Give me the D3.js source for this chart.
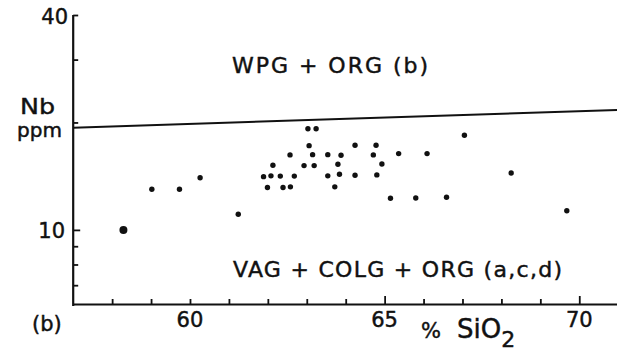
<!DOCTYPE html>
<html>
<head>
<meta charset="utf-8">
<script src="https://cdn.jsdelivr.net/npm/d3@7"></script>
<style>
  html, body { margin: 0; padding: 0; background: #fff; }
  svg { display: block; }
  text { font-family: "DejaVu Sans", sans-serif; fill: #111; stroke: #111; stroke-width: 0.45; }
</style>
</head>
<body>
<svg id="chart" width="617" height="352"></svg>
<script>
// ---- data ----
const sio2 = [58.29, 59.02, 59.73, 60.26, 61.24, 61.89, 61.99, 62.08, 62.13, 62.32,
              62.39, 62.57, 62.58, 62.68, 62.93, 63.03, 63.24, 63.06, 63.15, 63.19,
              63.54, 63.54, 63.72, 63.80, 63.84, 63.88, 64.24, 64.24, 64.71, 64.78,
              64.80, 64.93, 65.15, 65.36, 65.80, 66.09, 66.59, 67.05, 68.25, 69.68];
const nb   = [10.0, 13.0, 13.0, 14.0, 11.06, 14.1, 13.14, 14.17, 15.18, 14.15,
              13.14, 16.22, 13.2, 14.15, 15.14, 19.21, 19.21, 17.22, 16.25, 15.14,
              16.25, 14.17, 13.2, 15.28, 14.32, 16.19, 17.27, 14.23, 16.22, 17.27,
              14.26, 15.30, 12.27, 16.36, 12.29, 16.36, 12.35, 18.42, 14.44, 11.32];
const bigPoint = [true].concat(new Array(39).fill(false));
const boundarySiO2 = [57, 71];
const boundaryNb = [19.33, 21.68];
const xDomain = [57, 71];
const yDomain = [6.2, 40];
const xMinorTicks = [58, 59, 60, 61, 62, 63, 64, 65, 66, 67, 68, 69, 70];
const xMajorTicks = [65, 70];
const xTickLabels = ["60", "65", "70"];
const xLabelValues = [60, 65, 70];
const yTicks = [7, 8, 9, 10, 20, 30, 40];
const yTickLabels = {10: "10", 40: "40"};
const fieldUpper = "WPG + ORG (b)";
const fieldLower = "VAG + COLG + ORG (a,c,d)";

// ---- drawing ----
const svg = d3.select("#chart");
const x = d3.scaleLinear().domain(xDomain).range([73.2, 618.2]);
const y = d3.scaleLog().domain(yDomain).range([304, 15]);

const g = svg.append("g");

// x axis (ticks pointing up, into the plot)
const xAxis = g.append("g").attr("transform", "translate(0,304)")
  .call(d3.axisBottom(x).tickValues(xMinorTicks).tickSize(-5).tickFormat("").tickSizeOuter(0));
xAxis.select(".domain").attr("stroke", "#111").attr("stroke-width", 2.2);
xAxis.selectAll(".tick line").attr("stroke", "#111").attr("stroke-width", 1.8)
  .attr("y2", d => xMajorTicks.includes(d) ? -8 : -5);

// y axis (ticks pointing right)
const yAxis = g.append("g").attr("transform", "translate(73.2,0)")
  .call(d3.axisLeft(y).tickValues(yTicks).tickSize(-5).tickFormat("").tickSizeOuter(0));
yAxis.select(".domain").attr("stroke", "#111").attr("stroke-width", 2.2)
  .attr("d", "M0,15V306");
yAxis.selectAll(".tick line").attr("stroke", "#111").attr("stroke-width", 1.8)
  .attr("x2", d => d === 10 ? 7 : 5);

// boundary line
g.append("line")
  .attr("x1", x(boundarySiO2[0])).attr("y1", y(boundaryNb[0]))
  .attr("x2", x(boundarySiO2[1])).attr("y2", y(boundaryNb[1]))
  .attr("stroke", "#111").attr("stroke-width", 2);

// points
g.append("g").selectAll("circle")
  .data(sio2.map((s, i) => ({s, n: nb[i], big: bigPoint[i]})))
  .join("circle")
  .attr("cx", d => x(d.s))
  .attr("cy", d => y(d.n))
  .attr("r", d => d.big ? 4 : 2.7)
  .attr("fill", "#111");

// y tick labels
g.append("text").attr("x", 68).attr("y", y(40) + 9).attr("text-anchor", "end")
  .attr("font-size", 21).text(yTickLabels[40]);
g.append("text").attr("x", 65).attr("y", y(10) + 8).attr("text-anchor", "end")
  .attr("font-size", 21).text(yTickLabels[10]);

// x tick labels
xLabelValues.forEach((v, i) => {
  g.append("text").attr("x", x(v)).attr("y", 327).attr("text-anchor", "middle")
    .attr("font-size", 21)
    .text(xTickLabels[i]);
});

// axis titles
g.append("text").attr("x", 20).attr("y", 114).attr("font-size", 22)
  .attr("textLength", 35).attr("lengthAdjust", "spacingAndGlyphs").text("Nb");
g.append("text").attr("x", 17).attr("y", 137).attr("font-size", 19)
  .attr("textLength", 45).attr("lengthAdjust", "spacingAndGlyphs").text("ppm");
g.append("text").attr("x", 32).attr("y", 331).attr("font-size", 21)
  .text("(b)");

const xt = g.append("text").attr("x", 421).attr("y", 338).attr("font-size", 26);
xt.append("tspan").attr("font-size", 21).text("%");
xt.append("tspan").attr("x", 457).text("SiO");
xt.append("tspan").attr("dy", 9).attr("font-size", 22).text("2");

// field labels
g.append("text").attr("x", 232).attr("y", 73).attr("font-size", 22)
  .attr("textLength", 196).attr("lengthAdjust", "spacing").text(fieldUpper);
g.append("text").attr("x", 233).attr("y", 277).attr("font-size", 22)
  .attr("textLength", 329).attr("lengthAdjust", "spacing").text(fieldLower);
</script>
</body>
</html>
